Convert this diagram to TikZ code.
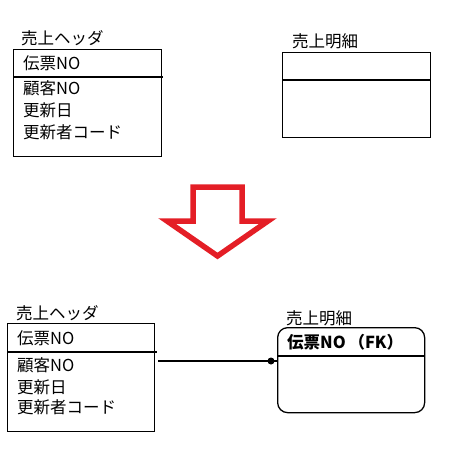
\documentclass[tikz,border=0pt]{standalone}
\usepackage{fontspec}
\setmainfont{Noto Sans CJK JP}
\usetikzlibrary{calc}
\definecolor{arrowred}{RGB}{228,30,38}
\begin{document}
\begin{tikzpicture}[x=1pt,y=-1pt,
  lbl/.style={anchor=west,inner sep=0pt,font=\fontsize{16.5}{19}\selectfont},
  ent/.style={draw,line width=1.3pt,anchor=north west,inner sep=0pt},
  sep/.style={line width=1.3pt}]
\useasboundingbox (0,0) rectangle (448,455);
% ---- top ----
\node[lbl] (t1) at (21,38) {売上ヘッダ};
\node[ent,minimum width=148pt,minimum height=107pt] (h1) at (13,49) {};
\draw[sep] (h1.west|-0,77) -- ($(h1.east|-0,77)+(1,0)$);
\node[lbl] (a1) at (23,63) {伝票NO};
\node[lbl] (a2) at (23,88) {顧客NO};
\node[lbl] (a3) at (23,110) {更新日};
\node[lbl] (a4) at (23,132) {更新者コード};
\node[lbl] (t2) at (292,41) {売上明細};
\node[ent,minimum width=148pt,minimum height=85pt] (d1) at (282,52) {};
\draw[sep] (d1.west|-0,80) -- (d1.east|-0,80);
% ---- arrow ----
\draw[arrowred,line width=5.5pt,line join=miter]
  (193,187) -- (242,187) -- (242,221) -- (268,221) -- (217.5,256) -- (167,221) -- (193,221) -- cycle;
% ---- bottom ----
\node[lbl] (t3) at (16,313) {売上ヘッダ};
\node[ent,minimum width=147pt,minimum height=108pt] (h2) at (7,323) {};
\draw[sep] (h2.west|-0,352) -- ($(h2.east|-0,352)+(2,0)$);
\node[lbl] (b1) at (17,338) {伝票NO};
\node[lbl] (b2) at (17,365) {顧客NO};
\node[lbl] (b3) at (17,387) {更新日};
\node[lbl] (b4) at (17,407) {更新者コード};
\node[lbl] (t4) at (286,318) {売上明細};
\node[ent,rounded corners=10pt,minimum width=147pt,minimum height=85pt] (d2) at (277,327) {};
\draw[sep] (d2.west|-0,356) -- (d2.east|-0,356);
\node[lbl,font=\fontsize{16.5}{19}\selectfont\bfseries] (fk) at (287,342) {伝票NO\,（FK）};
\coordinate (c) at (0,361);
\draw[line width=1.3pt,shorten <=3pt] (h2.east|-c) -- (d2.west|-c);
\fill ($(d2.west|-c)+(-6,0)$) circle (3.5pt);
\end{tikzpicture}
\end{document}
